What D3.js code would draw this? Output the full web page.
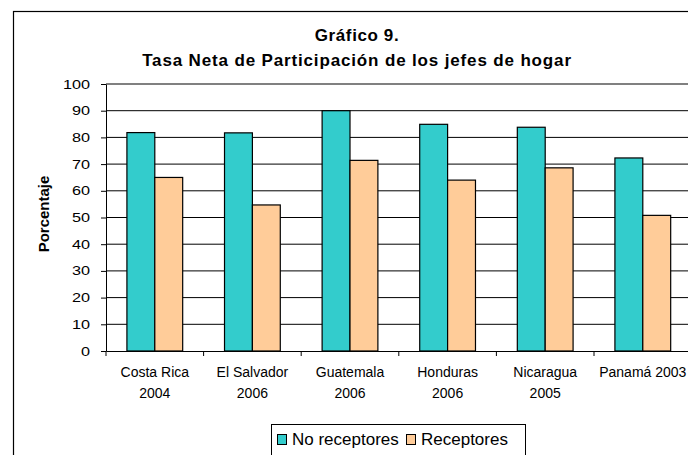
<!DOCTYPE html>
<html>
  <head>
    <meta charset="utf-8">
    <title>Gráfico 9</title>
    <script src="https://d3js.org/d3.v7.min.js"></script>
    <style>
      body { margin: 0; background: #fff; }
      text { font-family: "Liberation Sans", Arial, sans-serif; }
    </style>
  </head>
  <body>
    <svg width="688" height="455"></svg>
    <script>
      const categories = [
        ["Costa Rica", "2004"],
        ["El Salvador", "2006"],
        ["Guatemala", "2006"],
        ["Honduras", "2006"],
        ["Nicaragua", "2005"],
        ["Panamá 2003"]
      ];
      const seriesNames = ["No receptores", "Receptores"];
      const noReceptores = [81.8, 81.7, 90.0, 84.9, 83.8, 72.3];
      const receptores = [65.0, 54.7, 71.4, 64.0, 68.6, 50.8];
      const yTicks = [0, 10, 20, 30, 40, 50, 60, 70, 80, 90, 100];
      const colors = ["#33cccc", "#ffcc99"];

      function main(){
        const svg = d3.select("svg");
        const margin = {top: 84, left: 106, bottom: 104};
        const catWidth = 97.6;
        const innerWidth = catWidth * categories.length;
        const innerHeight = 455 - margin.top - margin.bottom;

        const data = categories.map((c, i) => ({
          key: c.join(" "),
          label: c,
          values: [noReceptores[i], receptores[i]]
        }));

        // outer chart border (right side cut off)
        svg.append("rect")
          .attr("x", 13.5).attr("y", 11.5)
          .attr("width", 700).attr("height", 460)
          .attr("fill", "none").attr("stroke", "#000").attr("stroke-width", 1.2);

        svg.append("text")
          .attr("x", 357).attr("y", 41)
          .attr("text-anchor", "middle")
          .attr("font-size", 17).attr("font-weight", "bold")
          .attr("letter-spacing", 0.6)
          .text("Gráfico 9.");
        svg.append("text")
          .attr("x", 357).attr("y", 66)
          .attr("text-anchor", "middle")
          .attr("font-size", 17).attr("font-weight", "bold")
          .attr("letter-spacing", 0.85)
          .text("Tasa Neta de Participación de los jefes de hogar");

        const xScale = d3.scaleBand()
          .domain(data.map(d => d.key))
          .range([0, innerWidth]);
        const xInner = d3.scaleBand()
          .domain(seriesNames)
          .range([0, catWidth])
          .paddingOuter(0.75);
        const yScale = d3.scaleLinear()
          .domain([0, 100])
          .range([innerHeight, 0]);

        const g = svg.append("g")
          .attr("transform", `translate(${margin.left}, ${margin.top})`);

        // gridlines
        g.selectAll(".grid").data(yTicks.filter(t => t > 0)).enter()
          .append("line")
          .attr("x1", 0).attr("x2", innerWidth)
          .attr("y1", d => yScale(d)).attr("y2", d => yScale(d))
          .attr("stroke", d => d === 100 ? "#808080" : "#000")
          .attr("stroke-width", d => d === 100 ? 2 : 1);

        // bars
        const groups = g.selectAll(".cat").data(data).enter()
          .append("g")
          .attr("transform", d => `translate(${xScale(d.key)}, 0)`);
        groups.selectAll("rect")
          .data(d => d.values.map((v, i) => ({name: seriesNames[i], value: v, i})))
          .enter().append("rect")
          .attr("x", d => xInner(d.name))
          .attr("y", d => yScale(d.value))
          .attr("width", xInner.bandwidth())
          .attr("height", d => innerHeight - yScale(d.value))
          .attr("fill", d => colors[d.i])
          .attr("stroke", "#000")
          .attr("stroke-width", 1.2);

        // y axis
        const yAxis = g.append("g")
          .call(d3.axisLeft(yScale).tickValues(yTicks).tickSize(5).tickSizeOuter(0));
        yAxis.select(".domain").attr("stroke", "#000");
        yAxis.selectAll("text")
          .attr("font-family", "Liberation Sans, Arial, sans-serif")
          .attr("font-size", 12.5).attr("fill", "#000")
          .attr("x", 0)
          .attr("transform", "translate(-16, 0) scale(1.3, 1)");

        // x axis
        const xAxis = g.append("g")
          .attr("transform", `translate(0, ${innerHeight})`)
          .call(d3.axisBottom(xScale).tickSize(0).tickSizeOuter(0).tickFormat(""));
        xAxis.select(".domain").attr("stroke", "#000");
        xAxis.selectAll(".bound").data(d3.range(categories.length + 1)).enter()
          .append("line")
          .attr("x1", i => i * catWidth).attr("x2", i => i * catWidth)
          .attr("y1", 0).attr("y2", 5)
          .attr("stroke", "#000");

        const labels = g.selectAll(".xlab").data(data).enter()
          .append("text")
          .attr("text-anchor", "middle")
          .attr("font-size", 14)
          .attr("transform", d => `translate(${xScale(d.key) + xScale.bandwidth() / 2}, ${innerHeight + 26})`);
        labels.selectAll("tspan").data(d => d.label).enter()
          .append("tspan")
          .attr("x", 0)
          .attr("dy", (d, i) => i === 0 ? 0 : 21)
          .text(d => d);

        // y axis title
        svg.append("text")
          .attr("transform", "translate(49, 214) rotate(-90)")
          .attr("text-anchor", "middle")
          .attr("font-size", 15).attr("font-weight", "bold")
          .text("Porcentaje");

        // legend (bottom cut off like the source)
        const legend = svg.append("g").attr("transform", "translate(271, 424)");
        legend.append("rect")
          .attr("x", 0.5).attr("y", 0.5)
          .attr("width", 254).attr("height", 40)
          .attr("fill", "#fff").attr("stroke", "#000");
        const items = legend.selectAll(".item").data(seriesNames).enter()
          .append("g")
          .attr("transform", (d, i) => `translate(${i === 0 ? 6 : 135}, 0)`);
        items.append("rect")
          .attr("x", 0.5).attr("y", 10.5)
          .attr("width", 9).attr("height", 10)
          .attr("fill", (d, i) => colors[i]).attr("stroke", "#000");
        items.append("text")
          .attr("x", 15).attr("y", 21)
          .attr("font-size", 17)
          .text(d => d);
      }
      main();
    </script>
  </body>
</html>
